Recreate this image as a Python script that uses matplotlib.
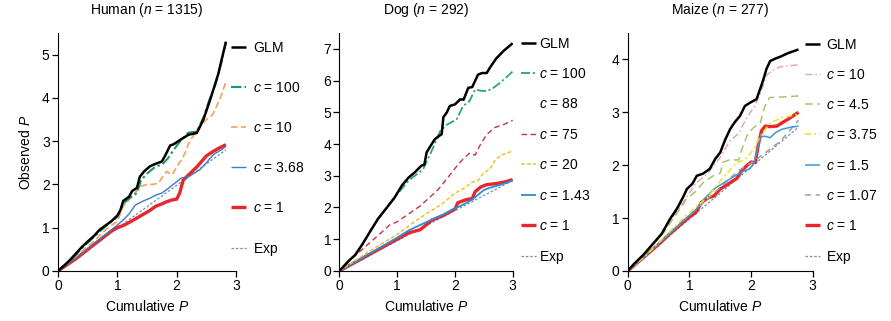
import matplotlib
matplotlib.use("Agg")
import matplotlib.pyplot as plt
from matplotlib.lines import Line2D

plt.rcParams["font.family"] = ["Liberation Sans", "DejaVu Sans"]
plt.rcParams["mathtext.fontset"] = "custom"
plt.rcParams["mathtext.it"] = "Liberation Sans:italic"
plt.rcParams["mathtext.rm"] = "Liberation Sans"
plt.rcParams["font.size"] = 10

# ---------------- Human ----------------
h_glm_x = [0, 0.1, 0.2, 0.3, 0.4, 0.5, 0.6, 0.7, 0.8, 0.9, 1.0, 1.05, 1.1, 1.2, 1.25, 1.33, 1.38,
           1.45, 1.55, 1.65, 1.75, 1.8, 1.89, 1.95, 2.06, 2.2, 2.34, 2.45, 2.55, 2.62, 2.7, 2.76, 2.83]
h_glm_y = [0, 0.12, 0.25, 0.4, 0.55, 0.68, 0.8, 0.95, 1.05, 1.15, 1.28, 1.4, 1.62, 1.72, 1.85, 1.92, 2.18,
           2.3, 2.42, 2.48, 2.53, 2.65, 2.9, 2.93, 3.03, 3.15, 3.19, 3.5, 3.9, 4.2, 4.55, 4.9, 5.3]
h_c100_x = [0, 0.2, 0.4, 0.6, 0.8, 1.0, 1.1, 1.2, 1.33, 1.4, 1.5, 1.65, 1.75, 1.85, 1.95, 2.06, 2.2,
            2.34, 2.45, 2.55, 2.65, 2.75, 2.83]
h_c100_y = [0, 0.22, 0.52, 0.78, 1.03, 1.25, 1.55, 1.68, 1.8, 2.1, 2.25, 2.42, 2.45, 2.6, 2.8, 3.0, 3.2,
            3.22, 3.55, 3.95, 4.3, 4.8, 5.3]
h_c10_x = [0, 0.2, 0.4, 0.6, 0.8, 1.0, 1.1, 1.25, 1.38, 1.5, 1.6, 1.69, 1.75, 1.83, 1.92, 2.0, 2.08,
           2.15, 2.2, 2.34, 2.5, 2.6, 2.67, 2.75, 2.83]
h_c10_y = [0, 0.22, 0.45, 0.68, 0.95, 1.15, 1.5, 1.72, 1.95, 2.0, 2.0, 2.03, 2.15, 2.3, 2.22, 2.4, 2.57,
           2.75, 2.95, 3.26, 3.5, 3.6, 3.8, 4.05, 4.38]
h_c368_x = [0, 0.3, 0.6, 0.9, 1.0, 1.1, 1.2, 1.3, 1.44, 1.55, 1.64, 1.75, 1.85, 1.97, 2.08, 2.2, 2.39,
            2.5, 2.62, 2.75, 2.83]
h_c368_y = [0, 0.3, 0.63, 0.95, 1.06, 1.18, 1.32, 1.52, 1.62, 1.68, 1.75, 1.8, 1.9, 2.03, 2.15, 2.18,
            2.34, 2.5, 2.69, 2.8, 2.88]
h_c1_x = [0, 0.3, 0.6, 0.9, 1.0, 1.1, 1.2, 1.3, 1.4, 1.55, 1.64, 1.75, 1.83, 1.92, 2.0, 2.05, 2.11,
          2.23, 2.35, 2.5, 2.6, 2.7, 2.83]
h_c1_y = [0, 0.28, 0.6, 0.92, 1.0, 1.05, 1.12, 1.2, 1.28, 1.4, 1.49, 1.55, 1.6, 1.64, 1.66, 1.8, 2.1,
          2.26, 2.42, 2.66, 2.75, 2.83, 2.92]
h_exp_x = [0, 2.83]
h_exp_y = [0, 2.8]

# ---------------- Dog ----------------
d_glm_x = [0, 0.15, 0.27, 0.4, 0.55, 0.67, 0.8, 0.95, 1.08, 1.2, 1.3, 1.42, 1.47, 1.51, 1.58, 1.65,
           1.72, 1.77, 1.8, 1.86, 1.91, 2.0, 2.09, 2.15, 2.23, 2.3, 2.4, 2.47, 2.55, 2.62, 2.72, 2.85, 3.0]
d_glm_y = [0, 0.3, 0.5, 0.85, 1.3, 1.65, 1.95, 2.3, 2.69, 2.95, 3.1, 3.32, 3.35, 3.74, 3.95, 4.15,
           4.25, 4.31, 4.85, 5.0, 5.2, 5.25, 5.41, 5.4, 5.77, 5.8, 6.19, 6.24, 6.24, 6.45, 6.71, 6.95, 7.18]
d_c100_x = [0, 0.3, 0.6, 0.9, 1.2, 1.45, 1.55, 1.65, 1.74, 1.85, 1.95, 2.03, 2.14, 2.25, 2.35, 2.45,
            2.55, 2.65, 2.78, 2.9, 3.0]
d_c100_y = [0, 0.55, 1.45, 2.2, 2.85, 3.21, 3.6, 4.0, 4.4, 4.6, 4.7, 4.78, 5.2, 5.35, 5.72, 5.68,
            5.67, 5.75, 5.93, 6.12, 6.29]
d_c75_x = [0, 0.25, 0.5, 0.75, 0.87, 1.0, 1.2, 1.4, 1.55, 1.7, 1.77, 1.9, 2.03, 2.15, 2.26, 2.35,
           2.43, 2.55, 2.69, 2.85, 3.0]
d_c75_y = [0, 0.45, 0.85, 1.25, 1.45, 1.55, 1.8, 2.05, 2.3, 2.55, 2.7, 3.0, 3.3, 3.55, 3.72, 3.65,
           3.95, 4.3, 4.52, 4.62, 4.75]
d_c20_x = [0, 0.5, 1.0, 1.3, 1.5, 1.65, 1.8, 2.0, 2.15, 2.3, 2.4, 2.5, 2.6, 2.7, 2.8, 3.0]
d_c20_y = [0, 0.6, 1.15, 1.55, 1.8, 1.96, 2.15, 2.45, 2.6, 2.8, 2.85, 3.1, 3.2, 3.5, 3.65, 3.78]
d_c143_x = [0, 0.5, 1.0, 1.2, 1.4, 1.6, 1.8, 2.0, 2.1, 2.3, 2.5, 2.6, 2.8, 3.0]
d_c143_y = [0, 0.52, 1.05, 1.28, 1.45, 1.62, 1.78, 1.98, 2.05, 2.25, 2.55, 2.62, 2.72, 2.85]
d_c1_x = [0, 0.5, 1.0, 1.2, 1.4, 1.5, 1.6, 1.8, 1.95, 2.0, 2.05, 2.2, 2.3, 2.35, 2.45, 2.55, 2.7,
          2.85, 3.0]
d_c1_y = [0, 0.5, 1.0, 1.2, 1.3, 1.45, 1.6, 1.75, 1.9, 1.95, 2.15, 2.25, 2.28, 2.5, 2.65, 2.72, 2.75,
          2.8, 2.88]
d_exp_x = [0, 3.0]
d_exp_y = [0, 2.85]

# ---------------- Maize ----------------
m_glm_x = [0, 0.1, 0.25, 0.4, 0.55, 0.69, 0.8, 0.9, 0.96, 1.05, 1.12, 1.22, 1.33, 1.42, 1.5, 1.58,
           1.66, 1.74, 1.82, 1.9, 1.98, 2.09, 2.15, 2.2, 2.25, 2.31, 2.4, 2.47, 2.6, 2.77]
m_glm_y = [0, 0.13, 0.3, 0.5, 0.7, 0.99, 1.18, 1.4, 1.55, 1.65, 1.8, 1.84, 1.93, 2.12, 2.24, 2.48,
           2.68, 2.82, 2.93, 3.12, 3.18, 3.25, 3.45, 3.62, 3.82, 3.97, 4.02, 4.05, 4.12, 4.19]
m_c10_x = [0, 0.3, 0.6, 0.9, 1.1, 1.3, 1.5, 1.65, 1.8, 1.93, 2.05, 2.15, 2.25, 2.35, 2.47, 2.6, 2.77]
m_c10_y = [0, 0.35, 0.8, 1.3, 1.65, 1.85, 2.15, 2.45, 2.6, 2.9, 3.1, 3.35, 3.7, 3.8, 3.86, 3.88, 3.9]
m_c45_x = [0, 0.3, 0.6, 0.96, 1.1, 1.23, 1.39, 1.5, 1.55, 1.65, 1.8, 1.85, 1.95, 2.05, 2.15, 2.22,
           2.3, 2.5, 2.77]
m_c45_y = [0, 0.35, 0.75, 1.37, 1.5, 1.68, 1.8, 1.85, 2.06, 2.1, 2.1, 2.3, 2.6, 2.72, 2.8, 3.1,
           3.28, 3.29, 3.31]
m_c375_x = [0, 0.3, 0.6, 0.9, 1.1, 1.3, 1.5, 1.65, 1.77, 1.9, 2.04, 2.15, 2.31, 2.5, 2.77]
m_c375_y = [0, 0.3, 0.65, 1.0, 1.2, 1.4, 1.7, 1.9, 2.05, 2.1, 2.3, 2.55, 2.8, 2.9, 2.96]
m_c15_x = [0, 0.3, 0.6, 0.9, 1.1, 1.23, 1.4, 1.6, 1.77, 1.9, 1.98, 2.05, 2.09, 2.15, 2.22, 2.31,
           2.4, 2.5, 2.65, 2.77]
m_c15_y = [0, 0.3, 0.62, 0.95, 1.15, 1.35, 1.55, 1.7, 1.82, 1.9, 1.93, 2.05, 2.24, 2.53, 2.55, 2.52,
           2.62, 2.68, 2.72, 2.74]
m_c107_x = [0, 0.5, 1.0, 1.5, 1.8, 2.05, 2.25, 2.47, 2.6, 2.77]
m_c107_y = [0, 0.52, 1.05, 1.58, 1.9, 2.08, 2.25, 2.45, 2.62, 2.85]
m_c1_x = [0, 0.3, 0.5, 0.7, 0.9, 1.0, 1.1, 1.2, 1.3, 1.4, 1.5, 1.6, 1.7, 1.77, 1.85, 1.93, 2.0,
          2.07, 2.12, 2.17, 2.23, 2.3, 2.42, 2.5, 2.6, 2.77]
m_c1_y = [0, 0.3, 0.5, 0.72, 0.92, 1.02, 1.1, 1.3, 1.38, 1.42, 1.55, 1.62, 1.7, 1.75, 1.9, 1.99, 2.06,
          2.05, 2.4, 2.65, 2.74, 2.73, 2.74, 2.8, 2.87, 3.0]
m_exp_x = [0, 2.77]
m_exp_y = [0, 2.72]

# styles: (label, color, linewidth, dashes)
GLM = ("$\\mathrm{GLM}$", "black", 1.8, None)
C1 = ("$c$ = 1", "#e8262b", 2.4, None)
EXP = ("$\\mathrm{Exp}$", "#6a8fbf", 0.9, (2, 1.5))

panels = [
    dict(title="Human ($n$ = 1315)", pos=[0.0651, 0.156, 0.1998, 0.741], ylim=5.5, yt=range(6),
         lines=[(h_glm_x, h_glm_y, GLM),
                (h_c100_x, h_c100_y, ("$c$ = 100", "#1a9a6c", 1.5, (5, 1.5, 1.2, 1.5))),
                (h_c10_x, h_c10_y, ("$c$ = 10", "#f4a15c", 1.2, (4, 2))),
                (h_c368_x, h_c368_y, ("$c$ = 3.68", "#3a7dc0", 1.0, None)),
                (h_c1_x, h_c1_y, C1),
                (h_exp_x, h_exp_y, EXP)],
         leg=dict(anchor=(0.972, 0.968), spacing=1.87, textpad=0.5), ylabel=True),
    dict(title="Dog ($n$ = 292)", pos=[0.381, 0.156, 0.1944, 0.741], ylim=7.5, yt=range(8),
         lines=[(d_glm_x, d_glm_y, GLM),
                (d_c100_x, d_c100_y, ("$c$ = 100", "#2aa57a", 1.3, (5, 1.5, 1.2, 1.5))),
                (None, None, ("$c$ = 88", "none", 1.0, None)),
                (d_c75_x, d_c75_y, ("$c$ = 75", "#c8343a", 1.0, (4, 2.5))),
                (d_c20_x, d_c20_y, ("$c$ = 20", "#f0c02a", 1.1, (2.5, 1.5))),
                (d_c143_x, d_c143_y, ("$c$ = 1.43", "#2a8fd8", 1.3, None)),
                (d_c1_x, d_c1_y, C1),
                (d_exp_x, d_exp_y, EXP)],
         leg=dict(anchor=(1.048, 0.985), spacing=1.18, textpad=0.2), ylabel=False),
    dict(title="Maize ($n$ = 277)", pos=[0.7045, 0.156, 0.2076, 0.741], ylim=4.5, yt=range(5),
         lines=[(m_glm_x, m_glm_y, GLM),
                (m_c10_x, m_c10_y, ("$c$ = 10", "#e3a3ab", 1.0, (5, 2, 1.2, 2))),
                (m_c45_x, m_c45_y, ("$c$ = 4.5", "#a9c46c", 1.1, (5, 3))),
                (m_c375_x, m_c375_y, ("$c$ = 3.75", "#eee21a", 1.1, (4, 2, 1.2, 2))),
                (m_c15_x, m_c15_y, ("$c$ = 1.5", "#3a9ad8", 1.1, None)),
                (m_c107_x, m_c107_y, ("$c$ = 1.07", "#a3a38a", 1.1, (4, 3))),
                (m_c1_x, m_c1_y, C1),
                (m_exp_x, m_exp_y, EXP)],
         leg=dict(anchor=(0.958, 0.981), spacing=1.17, textpad=0.45), ylabel=False),
]

fig = plt.figure(figsize=(8.91, 3.21), dpi=100)

for p in panels:
    ax = fig.add_axes(p["pos"])
    handles = []
    # draw the lighter lines first so GLM and c = 1 sit on top
    for xs, ys, (label, color, lw, dashes) in reversed(p["lines"]):
        if xs is None:
            h = Line2D([], [], color=color, lw=lw, label=label)
        else:
            (h,) = ax.plot(xs, ys, color=color, lw=lw, label=label, solid_capstyle="butt")
            if dashes is not None:
                h.set_dashes(dashes)
        handles.insert(0, h)
    ax.set_xlim(0, 3)
    ax.set_ylim(0, p["ylim"])
    ax.set_xticks([0, 1, 2, 3])
    ax.set_yticks(list(p["yt"]))
    for s in ("top", "right"):
        ax.spines[s].set_visible(False)
    ax.tick_params(direction="out", length=4, width=0.9, labelsize=10, pad=2)
    ax.set_title(p["title"], fontsize=10, pad=14)
    ax.set_xlabel("Cumulative $P$", fontsize=10, labelpad=4)
    if p["ylabel"]:
        ax.set_ylabel("Observed $P$", fontsize=10, labelpad=6)
    lg = p["leg"]
    ax.legend(handles=handles, loc="upper left", bbox_to_anchor=lg["anchor"], frameon=False,
              borderpad=0, borderaxespad=0, handlelength=1.1, handletextpad=lg["textpad"],
              labelspacing=lg["spacing"], fontsize=10)

fig.savefig("out.png", dpi=100)
